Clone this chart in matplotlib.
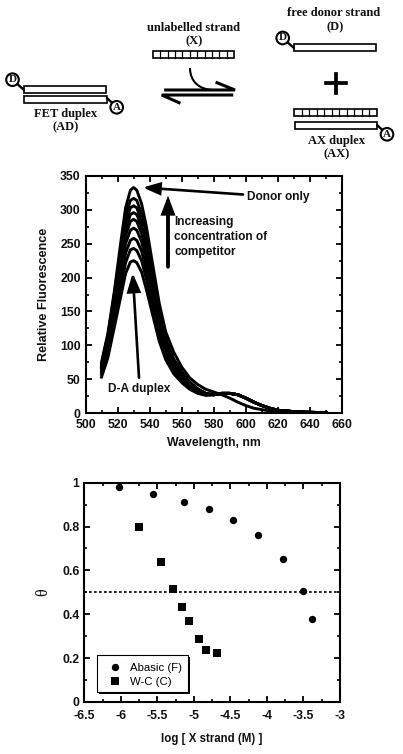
import matplotlib
matplotlib.use("Agg")
import matplotlib.pyplot as plt
from matplotlib.patches import Rectangle, Circle, PathPatch, FancyArrowPatch
from matplotlib.path import Path
from matplotlib.ticker import MultipleLocator, FuncFormatter

plt.rcParams['font.family'] = ['Liberation Sans', 'DejaVu Sans']
BOLD = dict(fontweight='bold', fontsize=8.6, color='#111111')
SERIF = dict(family='Liberation Serif', fontweight='bold', fontsize=9.0, color='#111111', ha='center', va='center')

# ---------- data: emission spectra ----------
wavelength_head = [510, 514, 518, 522, 525, 528, 530, 532, 535, 538, 542, 546, 550, 555, 560, 565, 570, 575]
wavelength_tail = [580, 585, 590, 595, 600, 605, 610, 615, 620, 630, 640, 650]
donor_head = [75, 118, 180, 252, 303, 329, 333, 329, 309, 275, 218, 162, 120, 90, 68, 52, 42, 35]
donor_tail = [31, 27, 22, 16, 11, 7, 5, 3, 2, 1, 0.5, 0.3]
duplex_tail = [27, 29, 29, 27, 22, 16, 11, 7, 4, 2, 1, 0.5]
c317 = [72, 115, 176, 243, 291, 314, 317, 314, 294, 258, 203, 149, 110, 80, 61, 46, 36, 29]
c306 = [70, 111, 170, 234, 281, 303, 306, 303, 284, 249, 196, 144, 106, 77, 59, 45, 35, 29]
c296 = [68, 108, 165, 226, 272, 293, 296, 293, 275, 241, 189, 140, 103, 75, 57, 43, 34, 29]
c286 = [66, 104, 160, 219, 262, 283, 286, 283, 265, 233, 182, 135, 99, 72, 55, 42, 33, 28]
c273 = [63, 100, 153, 208, 250, 270, 273, 270, 253, 222, 174, 128, 95, 69, 53, 40, 32, 28]
c258 = [60, 94, 144, 197, 236, 255, 258, 255, 239, 209, 165, 121, 90, 65, 50, 38, 31, 27]
c243 = [57, 89, 136, 186, 222, 241, 243, 240, 225, 197, 155, 114, 85, 62, 48, 37, 30, 27]
c225 = [53, 82, 127, 172, 206, 223, 225, 222, 208, 182, 144, 106, 79, 58, 45, 35, 29, 26]
competitor_heads = [c317, c306, c296, c286, c273, c258, c243, c225]

# ---------- data: titration ----------
abasic_x = [-6.03, -5.56, -5.135, -4.79, -4.47, -4.12, -3.775, -3.51, -3.38]
abasic_y = [0.982, 0.948, 0.91, 0.88, 0.832, 0.76, 0.65, 0.508, 0.378]
wc_x = [-5.747, -5.455, -5.28, -5.16, -5.07, -4.93, -4.83, -4.68]
wc_y = [0.80, 0.64, 0.516, 0.434, 0.37, 0.288, 0.238, 0.223]
midpoint = 0.5

W, H = 403, 754
fig = plt.figure(figsize=(W / 100, H / 100), dpi=100)


def axes_px(l, r, t, b):
    return fig.add_axes([l / W, 1 - b / H, (r - l) / W, (b - t) / H])


def style(ax):
    for s in ax.spines.values():
        s.set_linewidth(1.5)
    ax.tick_params(which='major', direction='in', top=True, right=True, length=4, width=1.3, pad=3.5,
                   labelsize=8.8)
    ax.tick_params(which='minor', direction='in', top=True, right=True, length=2.2, width=1.2)
    for lab in ax.get_xticklabels() + ax.get_yticklabels():
        lab.set_fontweight('bold')
        lab.set_color('#111111')


# ---------- spectra ----------
ax1 = axes_px(85.5, 342, 176, 413)
wl = wavelength_head + wavelength_tail
ax1.plot(wl, donor_head + donor_tail, color='black', lw=2.1, solid_joinstyle='round')
for head in competitor_heads:
    ax1.plot(wl, head + duplex_tail, color='black', lw=2.1, solid_joinstyle='round')
ax1.set_xlim(500, 660)
ax1.set_ylim(0, 350)
ax1.xaxis.set_major_locator(MultipleLocator(20))
ax1.xaxis.set_minor_locator(MultipleLocator(10))
ax1.yaxis.set_major_locator(MultipleLocator(50))
ax1.yaxis.set_minor_locator(MultipleLocator(25))
style(ax1)
ax1.tick_params(axis='x', which='major', pad=4.4)
ax1.set_xlabel('Wavelength, nm', labelpad=4, fontweight='bold', fontsize=8.8, color='#111111')
ax1.set_ylabel('Relative Fluorescence', labelpad=7, fontweight='bold', fontsize=9.1, color='#111111')

# ---------- titration ----------
ax2 = axes_px(84.3, 340, 482.7, 702)
ax2.axhline(midpoint, color='black', lw=1.2, dashes=(1.6, 1.4))
h1, = ax2.plot(abasic_x, abasic_y, 'o', color='black', ms=5.3, mew=0, label='Abasic (F)', clip_on=False)
h2, = ax2.plot(wc_x, wc_y, 's', color='black', ms=5.8, mew=0, label='W-C (C)', clip_on=False)
ax2.set_xlim(-6.5, -3)
ax2.set_ylim(0, 1)
ax2.xaxis.set_major_locator(MultipleLocator(0.5))
ax2.xaxis.set_minor_locator(MultipleLocator(0.25))
ax2.yaxis.set_major_locator(MultipleLocator(0.2))
ax2.yaxis.set_minor_locator(MultipleLocator(0.1))
ax2.xaxis.set_major_formatter(FuncFormatter(lambda v, p: f'{v:g}'))
ax2.yaxis.set_major_formatter(FuncFormatter(lambda v, p: f'{v:g}'))
style(ax2)
ax2.tick_params(axis='x', which='major', pad=6)
ax2.set_xlabel('log [ X strand (M) ]', labelpad=8, fontweight='bold', fontsize=8.3, color='#111111')
ax2.set_ylabel('θ', labelpad=8, family='Liberation Serif', fontsize=11.5, color='#111111')

# ---------- overlay in pixel space: schematic and callouts ----------
ov = fig.add_axes([0, 0, 1, 1], zorder=10)
ov.set_xlim(0, W)
ov.set_ylim(H, 0)
ov.axis('off')
ov.patch.set_alpha(0)

# legend box with hard shadow, then a frameless library legend on top
ov.add_patch(Rectangle((98.7, 657.3), 91.3, 36.4, fc='black', ec='none', zorder=1))
ov.add_patch(Rectangle((96.7, 655.3), 91.3, 36.4, fc='white', ec='black', lw=0.8, zorder=1.5))
leg = ov.legend(handles=[h1, h2], loc='lower left',
                bbox_to_anchor=(0.052, 0.046), bbox_transform=ax2.transAxes, borderaxespad=0,
                frameon=False, fontsize=8.2, handletextpad=0.2, labelspacing=0.35,
                handlelength=2.16, borderpad=0.45)
leg.set_zorder(2)


def strand(x0, x1, y0, y1, cells=0):
    ov.add_patch(Rectangle((x0, y0), x1 - x0, y1 - y0, fc='white', ec='black', lw=1.2))
    for i in range(1, cells):
        x = x0 + (x1 - x0) * i / cells
        ov.plot([x, x], [y0, y1], color='black', lw=0.9)


def label(x, y, t, lx, ly):
    ov.plot([x, lx], [y, ly], color='black', lw=1.7, solid_capstyle='round')
    ov.add_patch(Circle((x, y), 6.3, fc='white', ec='black', lw=1.5, zorder=4))
    ov.text(x, y, t, zorder=5, **{**SERIF, 'fontsize': 8})


# FET duplex
strand(23.7, 106.3, 86.3, 92.7)
strand(24, 107, 96, 103.3)
label(12.5, 79.7, 'D', 24, 90)
label(116.7, 107.3, 'A', 107, 98)
ov.text(65.7, 113.5, 'FET duplex', **SERIF)
ov.text(66, 127.5, '(AD)', **SERIF)

# unlabelled strand
ov.text(193.5, 28, 'unlabelled strand', **SERIF)
ov.text(194, 41.5, '(X)', **SERIF)
strand(152.7, 234.3, 50.7, 57.7, cells=11)

# equilibrium arrows
ov.plot([165.7, 235, 217], [90, 90, 82.7], color='black', lw=2.2, solid_joinstyle='miter')
ov.plot([231.7, 161.7, 179], [95, 95, 102.7], color='black', lw=2.2, solid_joinstyle='miter')
ov.add_patch(PathPatch(Path([(190, 68), (190, 82), (200, 90), (214, 90)],
                            [Path.MOVETO, Path.CURVE4, Path.CURVE4, Path.CURVE4]),
                       fc='none', ec='black', lw=1.5))

# free donor
ov.text(333.5, 13, 'free donor strand', **SERIF)
ov.text(335, 27, '(D)', **SERIF)
strand(294, 376, 43.7, 50.7)
label(282.7, 38, 'D', 294, 48)

# plus
ov.plot([326, 345.5], [83.3, 83.3], color='black', lw=2.7)
ov.plot([335.7, 335.7], [73.5, 93], color='black', lw=2.7)

# AX duplex
strand(294.3, 376.7, 109.3, 116.3, cells=11)
strand(295.3, 377, 122.3, 129.3)
label(387, 134.3, 'A', 377, 125)
ov.text(336.7, 141, 'AX duplex', **SERIF)
ov.text(336.7, 154.5, '(AX)', **SERIF)


def arrow(p0, p1, lw=1.6, hw=4.5, hl=9):
    ov.add_patch(FancyArrowPatch(p0, p1, arrowstyle=f'-|>,head_width={hw / 10:.2f},head_length={hl / 10:.2f}',
                                 mutation_scale=10, fc='black', ec='black', lw=lw, shrinkA=0, shrinkB=0,
                                 joinstyle='miter'))


# callouts
arrow((243, 194.5), (142.7, 187.5), lw=1.9, hw=3.6, hl=10)
arrow((168, 266.7), (168, 195.7), lw=2.8, hw=3.4, hl=9)
arrow((139, 377.7), (132.7, 273), lw=1.9, hw=4, hl=11)
ov.text(246.7, 197, 'Donor only', va='center', **BOLD)
for y, t in zip([222.3, 237, 252], ['Increasing', 'concentration of', 'competitor']):
    ov.text(174.3, y, t, va='center', **BOLD)
ov.text(139, 389, 'D-A duplex', va='center', ha='center', **BOLD)

fig.savefig('out.png', dpi=100)
